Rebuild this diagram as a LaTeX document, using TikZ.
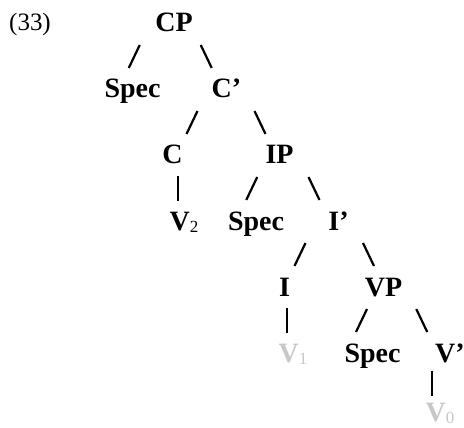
\documentclass[tikz,border=0pt]{standalone}
\usepackage{fontspec}
\setmainfont{Liberation Serif}
\usetikzlibrary{calc}

\newcommand{\lowsub}[1]{\raisebox{-2pt}{\fontsize{17}{17}\selectfont\mdseries #1}}

\begin{document}
\begin{tikzpicture}[y=-1pt, x=1pt,font=\fontsize{28}{33}\selectfont\bfseries,
  cat/.style={anchor=base, inner sep=0pt, text height=17pt, text depth=0pt},
  trace/.style={cat, text=black!22},
  branch/.style={line width=2.2pt},
  lbr/.style={to path={($(\tikztostart)!.5!(\tikztotarget)$) ++(#1,0) +(5.5,-11.5) -- +(-5.5,11.5)}},
  rbr/.style={to path={($(\tikztostart)!.5!(\tikztotarget)$) ++(#1,0) +(-5.5,-11.5) -- +(5.5,11.5)}},
  vbr/.style={to path={($(\tikztostart)!.5!(\tikztotarget)$) ++(#1,0) +(0,-12.5) -- +(0,12.5)}}]

\useasboundingbox (0,0) rectangle (464,428);

\node[cat] (ex) at (30,31) {\fontsize{25}{30}\selectfont\mdseries(33)};

\node[cat] (CP)    at (174,32)    {CP};
\node[cat] (Spec1) at (132.5,98)  {Spec};
\node[cat] (Cbar)  at (226.5,98)  {C’};
\node[cat] (C)     at (172.5,164) {C};
\node[cat] (IP)    at (279.5,164) {IP};
\node[cat] (V2)    at (184,230)   {V\lowsub{2}};
\node[cat] (Spec2) at (256,230)   {Spec};
\node[cat] (Ibar)  at (338.5,230) {I’};
\node[cat] (I)     at (284.5,296) {I};
\node[cat] (VP)    at (383.5,296) {VP};
\node[trace] (V1)  at (293,362)   {V\lowsub{1}};
\node[cat] (Spec3) at (372.5,362) {Spec};
\node[cat] (Vbar)  at (450,362)   {V’};
\node[trace] (V0)  at (440,421)   {V\lowsub{0}};

\draw[branch,lbr=-19]   (CP) to (Spec1);
\draw[branch,rbr=6]     (CP) to (Cbar);
\draw[branch,lbr=-7.5]  (Cbar) to (C);
\draw[branch,rbr=7]     (Cbar) to (IP);
\draw[branch,vbr=0]     (C) to (V2);
\draw[branch,lbr=-16]   (IP) to (Spec2);
\draw[branch,rbr=5]     (IP) to (Ibar);
\draw[branch,lbr=-11.5] (Ibar) to (I);
\draw[branch,rbr=7.5]   (Ibar) to (VP);
\draw[branch,vbr=-2]    (I) to (V1);
\draw[branch,lbr=-16.5] (VP) to (Spec3);
\draw[branch,rbr=5]     (VP) to (Vbar);
\draw[branch,vbr=-13]   (Vbar) to (V0);
\end{tikzpicture}
\end{document}
